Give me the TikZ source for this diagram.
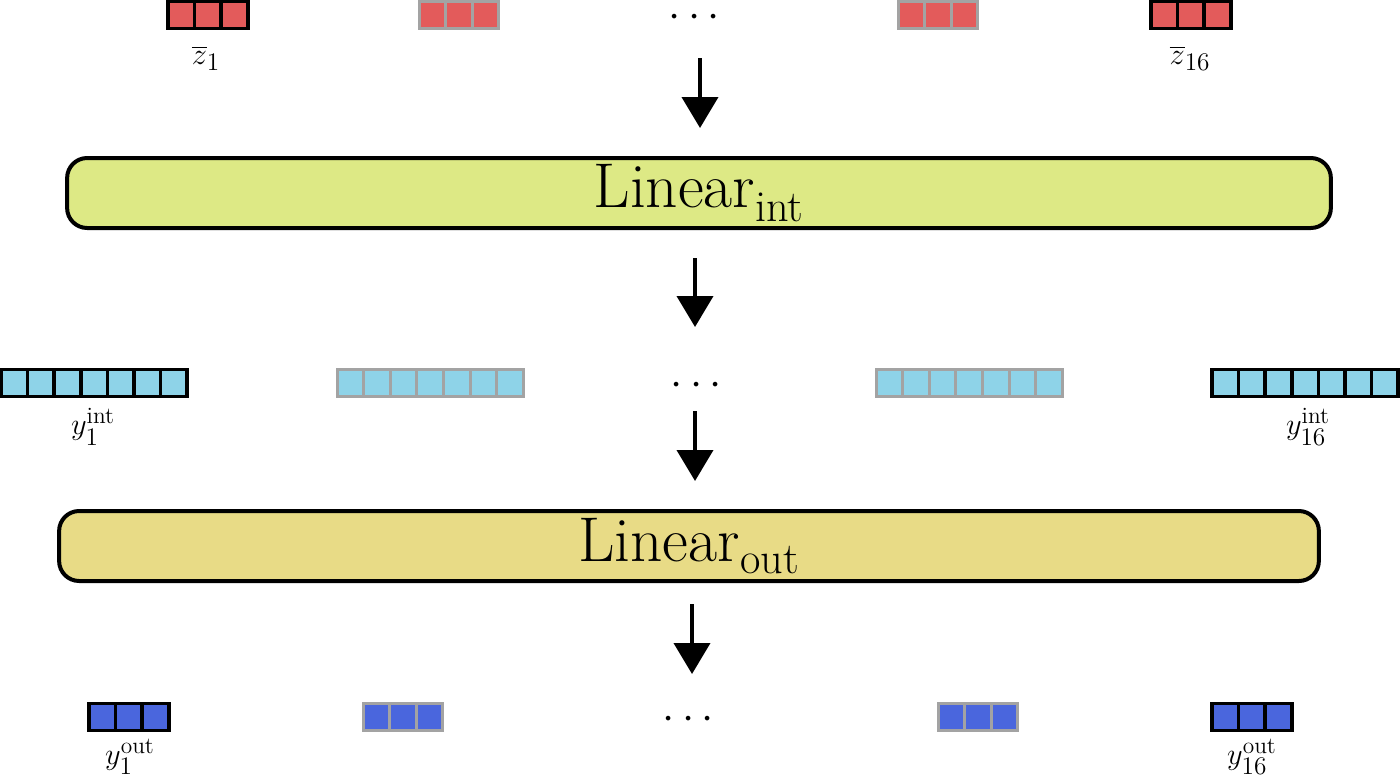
\documentclass[tikz,border=0pt]{standalone}
\usepackage{xcolor}
\usepackage{tikz}
\usetikzlibrary{positioning,arrows.meta}
\usepackage{amsmath}
\definecolor{zred}{HTML}{E35B5B}
\definecolor{intblue}{HTML}{8ED3E8}
\definecolor{outblue}{HTML}{4A66DD}
\definecolor{intfill}{HTML}{DDE985}
\definecolor{outfill}{HTML}{E8DB86}
\definecolor{ghost}{HTML}{A3A3A3}
\tikzset{
  cell/.style={rectangle, draw=black, line width=0.07cm, minimum width=0.532cm,
               minimum height=0.54cm, inner sep=0pt},
  faded/.style={draw=ghost, line width=0.06cm},
  layer/.style={rectangle, draw=black, line width=0.08cm, rounded corners=0.4cm,
                minimum height=1.4cm, inner sep=0pt,
                font=\fontsize{36}{43}\selectfont},
  lbl/.style={font=\fontsize{19}{23}\selectfont, inner sep=0pt},
  dots/.style={font=\fontsize{41}{48}\selectfont, inner sep=0pt},
  arr/.style={-{Triangle[length=0.62cm, width=0.72cm]}, line width=0.08cm},
}
\begin{document}
\begin{tikzpicture}[x=0.02cm, y=-0.02cm]
      \useasboundingbox (0,0) rectangle (1400,775);
      % input vectors
      \foreach \i in {1,2,3} {
        \node[cell, fill=zred] (za-\i) at ({181.3+26.6*(\i-1)}, 15) {};
        \node[cell, faded, fill=zred] (zb-\i) at ({432.3+26.6*(\i-1)}, 15) {};
        \node[cell, faded, fill=zred] (zc-\i) at ({911.3+26.6*(\i-1)}, 15) {};
        \node[cell, fill=zred] (zd-\i) at ({1164.3+26.6*(\i-1)}, 15) {};
      }
      \node[dots] (zdots) at (698, 18) {$\cdots$};
      \node[lbl] (zl1) at (206, 58) {$\overline{z}_1$};
      \node[lbl] (zl16) at (1190, 58) {$\overline{z}_{16}$};

      % intermediate layer
      \node[layer, fill=intfill, minimum width=25.28cm] (linint) at (699, 193) {$\text{Linear}_{\text{int}}$};
      \coordinate (a1s) at (700, 58);
      \coordinate (a1e) at (700, 128);
      \draw[arr] (a1s) -- (a1e);
      \coordinate (a2s) at (695, 258);
      \coordinate (a2e) at (695, 327);
      \draw[arr] (a2s) -- (a2e);

      % intermediate vectors
      \foreach \i in {1,...,7} {
        \node[cell, fill=intblue] (ya-\i) at ({14.3+26.6*(\i-1)}, 383) {};
        \node[cell, faded, fill=intblue] (yb-\i) at ({350.3+26.6*(\i-1)}, 383) {};
        \node[cell, faded, fill=intblue] (yc-\i) at ({889.3+26.6*(\i-1)}, 383) {};
        \node[cell, fill=intblue] (yd-\i) at ({1225.3+26.6*(\i-1)}, 383) {};
      }
      \node[dots] (ydots) at (700, 386) {$\cdots$};
      \node[lbl] (yl1) at (93, 427) {$y_1^{\text{int}}$};
      \node[lbl] (yl16) at (1308, 427) {$y_{16}^{\text{int}}$};

      % output layer
      \coordinate (a3s) at (695, 411);
      \coordinate (a3e) at (695, 481);
      \draw[arr] (a3s) -- (a3e);
      \node[layer, fill=outfill, minimum width=25.2cm] (linout) at (689, 546) {$\text{Linear}_{\text{out}}$};
      \coordinate (a4s) at (692, 604);
      \coordinate (a4e) at (692, 674);
      \draw[arr] (a4s) -- (a4e);

      % output vectors
      \foreach \i in {1,2,3} {
        \node[cell, fill=outblue] (oa-\i) at ({102.3+26.6*(\i-1)}, 717) {};
        \node[cell, faded, fill=outblue] (ob-\i) at ({376.3+26.6*(\i-1)}, 717) {};
        \node[cell, faded, fill=outblue] (oc-\i) at ({951.3+26.6*(\i-1)}, 717) {};
        \node[cell, fill=outblue] (od-\i) at ({1225.3+26.6*(\i-1)}, 717) {};
      }
      \node[dots] (odots) at (692, 720) {$\cdots$};
      \node[lbl] (ol1) at (130, 757) {$y_1^{\text{out}}$};
      \node[lbl] (ol16) at (1252, 757) {$y_{16}^{\text{out}}$};
    \end{tikzpicture}
\end{document}
